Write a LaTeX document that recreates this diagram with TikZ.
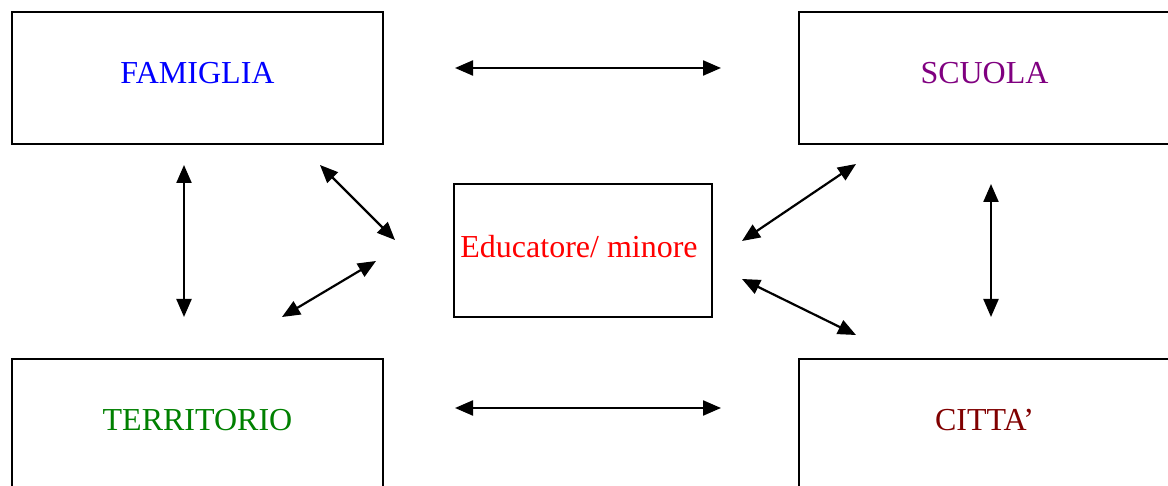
\documentclass[tikz,border=0pt]{standalone}
\usepackage{fontspec}
\setmainfont{Liberation Serif}
\usetikzlibrary{arrows.meta}
\definecolor{famc}{RGB}{0,0,255}
\definecolor{scuc}{RGB}{128,0,128}
\definecolor{terc}{RGB}{0,128,0}
\definecolor{citc}{RGB}{128,0,0}
\definecolor{educ}{RGB}{255,0,0}
\tikzset{
  box/.style={draw=black, line width=1pt, rectangle, inner sep=0pt, anchor=north west},
  lbl/.style={font=\fontsize{16pt}{18pt}\selectfont},
  arr/.style={line width=1.1pt, {Triangle[length=9pt,width=7.5pt]}-{Triangle[length=9pt,width=7.5pt]}}
}
\begin{document}
\begin{tikzpicture}[x=0.5pt,y=-0.5pt]
\useasboundingbox (0,0) rectangle (1168,486);
\clip (0,0) rectangle (1168,486);
% boxes
\node[box, minimum width=185.5pt, minimum height=66pt,
  label={[lbl, text=famc, yshift=2.5pt]center:FAMIGLIA}] (fam) at (11,11) {};
\node[box, minimum width=185.5pt, minimum height=66pt,
  label={[lbl, text=scuc, yshift=2.5pt]center:SCUOLA}] (scu) at (798,11) {};
\node[box, minimum width=185.5pt, minimum height=66pt,
  label={[lbl, text=terc, yshift=2.5pt]center:TERRITORIO}] (ter) at (11,358) {};
\node[box, minimum width=185.5pt, minimum height=66pt,
  label={[lbl, text=citc, yshift=2.5pt]center:CITTA’}] (cit) at (798,358) {};
\node[box, minimum width=129pt, minimum height=66.5pt,
  label={[lbl, text=educ, xshift=-2pt, yshift=2pt]center:Educatore/ minore}] (edu) at (453,183) {};
% arrow end points
\coordinate (fsA) at (455,68);   \coordinate (fsB) at (721,68);
\coordinate (tcA) at (455,408);  \coordinate (tcB) at (721,408);
\coordinate (ftA) at (184,165);  \coordinate (ftB) at (184,317);
\coordinate (scA) at (991,184);  \coordinate (scB) at (991,317);
\coordinate (feA) at (320,165);  \coordinate (feB) at (395,240);
\coordinate (teA) at (282,317);  \coordinate (teB) at (376,261);
\coordinate (seA) at (856,164);  \coordinate (seB) at (742,241);
\coordinate (ceA) at (742,279);  \coordinate (ceB) at (856,335);
% arrows
\draw[arr] (fsA) -- (fsB);
\draw[arr] (tcA) -- (tcB);
\draw[arr] (ftA) -- (ftB);
\draw[arr] (scA) -- (scB);
\draw[arr] (feA) -- (feB);
\draw[arr] (teA) -- (teB);
\draw[arr] (seA) -- (seB);
\draw[arr] (ceA) -- (ceB);
\end{tikzpicture}
\end{document}
